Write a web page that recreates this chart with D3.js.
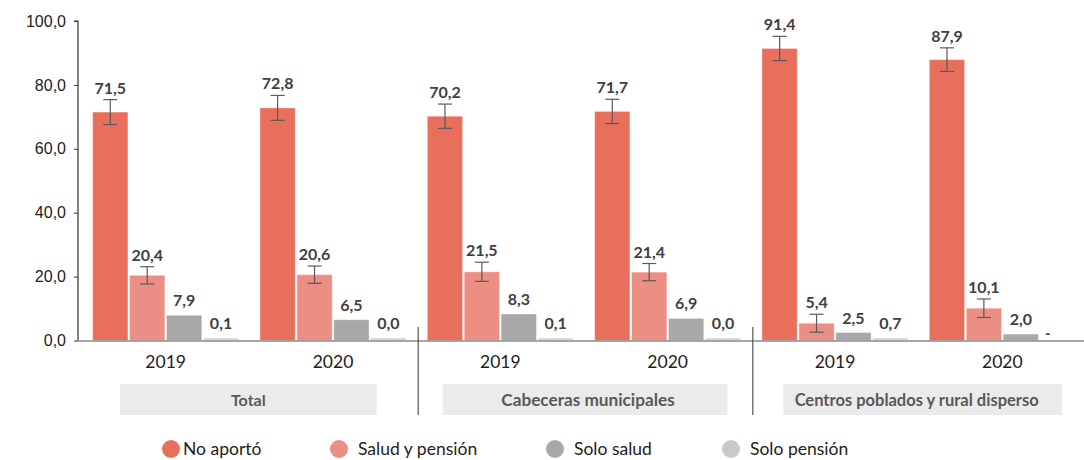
<!DOCTYPE html>
<html>
<head>
<meta charset="utf-8">
<script src="https://cdn.jsdelivr.net/npm/d3@7/dist/d3.min.js"></script>
<style>
  html, body { margin: 0; padding: 0; background: #fff; }
  svg { display: block; font-family: "Lato", "DejaVu Sans", sans-serif; }
</style>
</head>
<body>
<svg id="chart" width="1084" height="460"></svg>
<script>
// ---- Data ----
const regions = ["Total", "Cabeceras municipales", "Centros poblados y rural disperso"];
const years = ["2019", "2020"];
const seriesNames = ["No aportó", "Salud y pensión", "Solo salud", "Solo pensión"];
const seriesColors = ["#E76F5C", "#EB8E83", "#A8A8A8", "#D6D6D6"];
const legendColors = ["#E76F5C", "#EB8E83", "#A8A8A8", "#C9C9C9"];
// values per group, order: Total 2019, Total 2020, Cab 2019, Cab 2020, Centros 2019, Centros 2020
const noAporto      = [71.5, 72.8, 70.2, 71.7, 91.4, 87.9];
const saludPension  = [20.4, 20.6, 21.5, 21.4, 5.4, 10.1];
const soloSalud     = [7.9, 6.5, 8.3, 6.9, 2.5, 2.0];
const soloPension   = [0.1, 0.0, 0.1, 0.0, 0.7, null];
// error margins (half-width of confidence interval)
const errNoAporto     = [3.9, 3.9, 3.8, 3.8, 3.8, 3.7];
const errSaludPension = [2.7, 2.7, 3.0, 2.7, 2.8, 2.9];
const yTicks = [0, 20, 40, 60, 80, 100];

const seriesValues = [noAporto, saludPension, soloSalud, soloPension];
const seriesErrors = [errNoAporto, errSaludPension, null, null];

const groups = [];
regions.forEach((r, ri) => years.forEach((y, yi) => groups.push({ key: r + "|" + y, region: r, year: y, idx: ri * 2 + yi })));

const fmt = v => v.toFixed(1).replace(".", ",");

// ---- Layout ----
const svg = d3.select("#chart");
const axisX = 78;
const y = d3.scaleLinear().domain([0, 100]).range([340.5, 21]);
const x0 = d3.scaleBand().domain(groups.map(g => g.key)).range([82, 1086]).paddingInner(0).paddingOuter(0);
const innerW = 146;
const x1 = d3.scaleBand().domain(seriesNames).range([0, innerW]).paddingInner(0.045).paddingOuter(0);

// Y axis
const yAxis = d3.axisLeft(y).tickValues(yTicks).tickFormat(d => fmt(d)).tickSize(4).tickPadding(8);
const yg = svg.append("g").attr("transform", `translate(${axisX},0)`).call(yAxis);
yg.select(".domain").attr("stroke", "#333").attr("stroke-width", 1.2).attr("d", `M-4,${y(100)}H0V${y(0)}`);
yg.selectAll(".tick line").attr("stroke", "#333");
yg.selectAll(".tick text").attr("font-size", 16).attr("fill", "#222");

// Bars
const gGroups = svg.append("g").selectAll("g").data(groups).join("g")
  .attr("transform", d => `translate(${x0(d.key) + (x0.bandwidth() - innerW) / 2},0)`);

gGroups.each(function(g) {
  const sel = d3.select(this);
  seriesNames.forEach((s, si) => {
    const v = seriesValues[si][g.idx];
    const bx = x1(s);
    const bw = x1.bandwidth();
    if (v === null) {
      sel.append("text").attr("x", bx + 5).attr("y", y(0) - 2)
        .attr("font-size", 15).attr("font-weight", "bold").attr("fill", "#404040").text("-");
      return;
    }
    const top = Math.min(y(v), y(0) - 2.5);
    sel.append("rect").attr("x", bx).attr("width", bw)
      .attr("y", top).attr("height", y(0) - top)
      .attr("fill", seriesColors[si])
      .attr("stroke", "#ffffff").attr("stroke-opacity", 0.35).attr("stroke-width", 1);
    const errs = seriesErrors[si];
    let labelY = top - 9;
    if (errs) {
      const e = errs[g.idx];
      const cx = bx + bw / 2;
      const et = y(v + e), eb = y(v - e);
      sel.append("line").attr("x1", cx).attr("x2", cx).attr("y1", et).attr("y2", eb).attr("stroke", "#5a5a5a").attr("stroke-width", 1.2);
      sel.append("line").attr("x1", cx - 7).attr("x2", cx + 7).attr("y1", et).attr("y2", et).attr("stroke", "#5a5a5a").attr("stroke-width", 1.2);
      sel.append("line").attr("x1", cx - 7).attr("x2", cx + 7).attr("y1", eb).attr("y2", eb).attr("stroke", "#5a5a5a").attr("stroke-width", 1.2);
      labelY = et - 6;
    }
    sel.append("text").attr("x", bx + bw / 2).attr("y", labelY)
      .attr("text-anchor", "middle").attr("font-size", 16).attr("font-weight", "bold")
      .attr("fill", "#404040").text(fmt(v));
  });
});

// X baseline
svg.append("line").attr("x1", axisX).attr("x2", 1084).attr("y1", y(0) + 0.5).attr("y2", y(0) + 0.5)
  .attr("stroke", "#8a8a8a").attr("stroke-width", 1.6);

// Year labels
svg.append("g").selectAll("text").data(groups).join("text")
  .attr("x", d => x0(d.key) + x0.bandwidth() / 2).attr("y", 368)
  .attr("text-anchor", "middle").attr("font-size", 17.5).attr("fill", "#222").text(d => d.year);

// Region separators
[1, 2].forEach(i => {
  const sx = x0(groups[i * 2].key) + 1.5;
  svg.append("line").attr("x1", sx).attr("x2", sx).attr("y1", 327).attr("y2", 415)
    .attr("stroke", "#333").attr("stroke-width", 1);
});

// Region boxes
const boxInsets = [[38, 40], [26, 24], [32, 24]];
const labelSizes = [16, 17.2, 16.5];
regions.forEach((r, ri) => {
  const start = x0(groups[ri * 2].key);
  const end = x0(groups[ri * 2 + 1].key) + x0.bandwidth();
  const bx0 = start + boxInsets[ri][0], bx1 = end - boxInsets[ri][1];
  svg.append("rect").attr("x", bx0).attr("y", 384).attr("width", bx1 - bx0).attr("height", 31).attr("fill", "#EBEBEB");
  svg.append("text").attr("x", (bx0 + bx1) / 2 - (ri === 2 ? 6 : 0) + (ri === 1 ? 3 : 0)).attr("y", 405.5).attr("text-anchor", "middle")
    .attr("font-size", labelSizes[ri]).attr("font-weight", "bold").attr("fill", "#595959").text(r);
});

// Legend
const legendX = [171, 339, 555, 731];
const legendTextX = [183, 358, 574, 750];
const lg = svg.append("g");
seriesNames.forEach((s, i) => {
  lg.append("circle").attr("cx", legendX[i]).attr("cy", 449).attr("r", 9).attr("fill", legendColors[i]);
  lg.append("text").attr("x", legendTextX[i]).attr("y", 455).attr("font-size", 17.5).attr("fill", "#222").text(s);
});
</script>
</body>
</html>
